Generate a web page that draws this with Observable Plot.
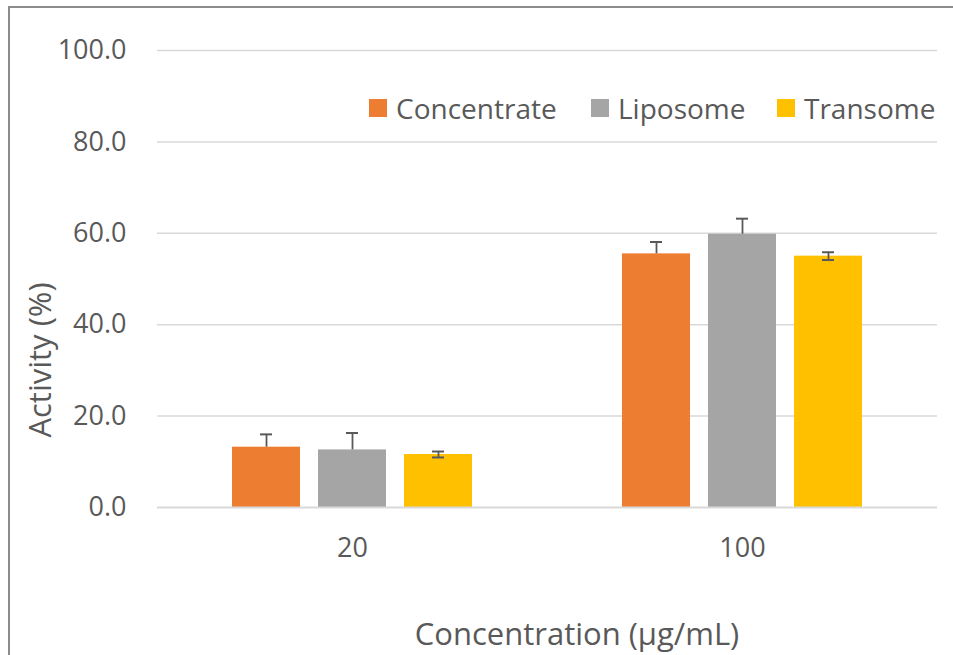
<!DOCTYPE html>
<html>
<head>
<meta charset="utf-8">
<script src="https://cdn.jsdelivr.net/npm/d3@7"></script>
<script src="https://cdn.jsdelivr.net/npm/@observablehq/plot@0.6"></script>
<style>
  html, body { margin: 0; padding: 0; background: #fff; overflow: hidden; }
  #wrap { position: relative; width: 953px; height: 655px; font-family: "Open Sans", sans-serif; color: #595959; }
  #frame { position: absolute; left: 8px; top: 6px; width: 1000px; height: 700px; border-left: 2px solid #8c8c8c; border-top: 2px solid #8c8c8c; pointer-events: none; }
  #chart { position: absolute; left: 0; top: 0; }
  .title { position: absolute; white-space: nowrap; line-height: 1; }
  #ytitle { left: 39px; top: 360px; font-size: 31px; transform: translate(-50%, -50%) rotate(-90deg); }
  #xtitle { left: 577px; top: 633px; font-size: 31px; transform: translate(-50%, -50%); }
  .leg { position: absolute; top: 89px; display: flex; align-items: center; font-size: 28px; white-space: nowrap; }
  .leg span.sw { display: inline-block; width: 18px; height: 18px; margin-right: 9px; }
</style>
</head>
<body>
<div id="wrap">
  <div id="chart"></div>
  <div id="frame"></div>
  <div id="ytitle" class="title">Activity (%)</div>
  <div id="xtitle" class="title">Concentration (µg/mL)</div>
  <div id="legend"></div>
</div>
<script>
const concentrations = ["20", "100"];
const series = ["Concentrate", "Liposome", "Transome"];
const seriesColors = ["#ED7D31", "#A5A5A5", "#FFC000"];
const concentrateValues = [13.2, 55.5];
const liposomeValues = [12.6, 59.8];
const transomeValues = [11.6, 55.0];
const concentrateErrPlus = [2.8, 2.6];
const liposomeErrPlus = [3.7, 3.4];
const transomeErrPlus = [0.65, 0.85];
const concentrateErrMinus = [0, 0];
const liposomeErrMinus = [0, 0];
const transomeErrMinus = [0.65, 0.85];
const yTicks = [0, 20, 40, 60, 80, 100];
const legendLeft = [369, 591, 777];

const valuesBySeries = [concentrateValues, liposomeValues, transomeValues];
const plusBySeries = [concentrateErrPlus, liposomeErrPlus, transomeErrPlus];
const minusBySeries = [concentrateErrMinus, liposomeErrMinus, transomeErrMinus];

const rows = [];
concentrations.forEach((c, i) => {
  series.forEach((s, j) => {
    rows.push({conc: c, series: s, value: valuesBySeries[j][i], errPlus: plusBySeries[j][i], errMinus: minusBySeries[j][i]});
  });
});

const chart = Plot.plot({
  width: 953,
  height: 655,
  marginLeft: 157,
  marginRight: 16,
  marginTop: 50,
  marginBottom: 148,
  style: {fontFamily: "Open Sans, sans-serif", fontSize: "27px", color: "#595959", background: "transparent", overflow: "visible"},
  fx: {domain: concentrations, padding: 0},
  x: {domain: series, paddingInner: 0.21, paddingOuter: 0.86},
  y: {domain: [0, 100]},
  color: {domain: series, range: seriesColors},
  marks: [
    Plot.gridY(yTicks.filter(t => t > 0), {stroke: "#d9d9d9", strokeOpacity: 1, strokeWidth: 1.5}),
    Plot.barY(rows, {fx: "conc", x: "series", y: "value", fill: "series"}),
    Plot.ruleY([0], {stroke: "#d9d9d9", strokeWidth: 2}),
    Plot.ruleX(rows, {fx: "conc", x: "series", y1: d => d.value - d.errMinus, y2: d => d.value + d.errPlus, stroke: "#595959", strokeWidth: 1.8}),
    Plot.tickY(rows, {fx: "conc", x: "series", y: d => d.value + d.errPlus, inset: 28, stroke: "#595959", strokeWidth: 2}),
    Plot.tickY(rows.filter(d => d.errMinus > 0), {fx: "conc", x: "series", y: d => d.value - d.errMinus, inset: 28, stroke: "#595959", strokeWidth: 2}),
    Plot.axisY({ticks: yTicks, tickFormat: d => d.toFixed(1), tickSize: 0, tickPadding: 31, label: null, fontSize: 27, fill: "#595959"}),
    Plot.axisX({ticks: [], label: null}),
    Plot.axisFx({anchor: "bottom", tickSize: 0, tickPadding: 30, label: null, fontSize: 27, fill: "#595959"})
  ]
});
document.getElementById("chart").appendChild(chart);

const legend = document.getElementById("legend");
series.forEach((s, j) => {
  const item = document.createElement("div");
  item.className = "leg";
  item.style.left = legendLeft[j] + "px";
  item.innerHTML = `<span class="sw" style="background:${seriesColors[j]}"></span><span>${s}</span>`;
  legend.appendChild(item);
});
</script>
</body>
</html>
